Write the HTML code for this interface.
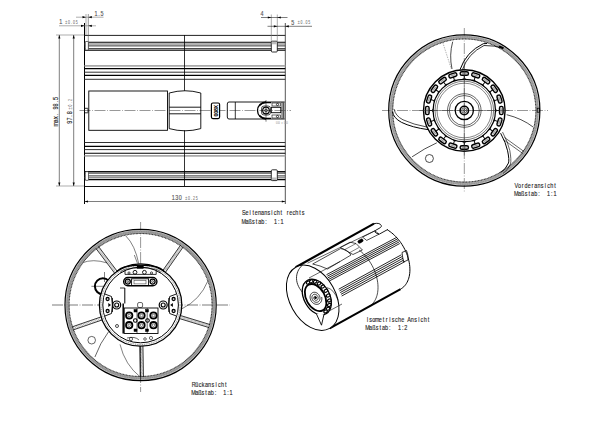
<!DOCTYPE html>
<html><head><meta charset="utf-8"><style>
html,body{margin:0;padding:0;background:#fff;width:600px;height:426px;overflow:hidden}
svg{display:block;font-family:"Liberation Sans",sans-serif}
</style></head><body>
<svg width="600" height="426" viewBox="0 0 600 426">
<line x1="56.00" y1="35.00" x2="84.50" y2="35.00" stroke="#777" stroke-width="0.6" />
<line x1="56.00" y1="186.00" x2="84.50" y2="186.00" stroke="#777" stroke-width="0.6" />
<line x1="84.50" y1="23.00" x2="84.50" y2="204.00" stroke="#000" stroke-width="1.0" />
<line x1="285.30" y1="23.00" x2="285.30" y2="204.00" stroke="#555" stroke-width="1.0" />
<line x1="84.50" y1="35.40" x2="285.30" y2="35.40" stroke="#222" stroke-width="1.0" />
<line x1="84.50" y1="186.50" x2="285.30" y2="186.50" stroke="#111" stroke-width="1.1" />
<line x1="84.50" y1="42.20" x2="285.30" y2="42.20" stroke="#000" stroke-width="1.1" />
<line x1="84.50" y1="179.60" x2="285.30" y2="179.60" stroke="#000" stroke-width="1.1" />
<line x1="84.50" y1="44.00" x2="285.30" y2="44.00" stroke="#666" stroke-width="1.0" />
<line x1="84.50" y1="177.80" x2="285.30" y2="177.80" stroke="#666" stroke-width="1.0" />
<line x1="84.50" y1="45.90" x2="285.30" y2="45.90" stroke="#333" stroke-width="1.0" />
<line x1="84.50" y1="175.90" x2="285.30" y2="175.90" stroke="#333" stroke-width="1.0" />
<line x1="84.50" y1="48.80" x2="285.30" y2="48.80" stroke="#000" stroke-width="1.0" />
<line x1="84.50" y1="173.00" x2="285.30" y2="173.00" stroke="#000" stroke-width="1.0" />
<line x1="84.50" y1="50.30" x2="285.30" y2="50.30" stroke="#111" stroke-width="1.0" />
<line x1="84.50" y1="171.50" x2="285.30" y2="171.50" stroke="#111" stroke-width="1.0" />
<line x1="84.50" y1="65.90" x2="285.30" y2="65.90" stroke="#aaa" stroke-width="1.8" />
<line x1="84.50" y1="155.90" x2="285.30" y2="155.90" stroke="#aaa" stroke-width="1.8" />
<line x1="84.50" y1="68.60" x2="285.30" y2="68.60" stroke="#000" stroke-width="1.1" />
<line x1="84.50" y1="153.20" x2="285.30" y2="153.20" stroke="#000" stroke-width="1.1" />
<line x1="84.50" y1="72.20" x2="285.30" y2="72.20" stroke="#333" stroke-width="1.0" />
<line x1="84.50" y1="149.60" x2="285.30" y2="149.60" stroke="#333" stroke-width="1.0" />
<line x1="84.50" y1="75.40" x2="285.30" y2="75.40" stroke="#000" stroke-width="1.4" />
<line x1="84.50" y1="146.40" x2="285.30" y2="146.40" stroke="#000" stroke-width="1.4" />
<line x1="84.50" y1="79.30" x2="285.30" y2="79.30" stroke="#333" stroke-width="1.0" />
<line x1="84.50" y1="142.50" x2="285.30" y2="142.50" stroke="#333" stroke-width="1.0" />
<line x1="184.50" y1="35.00" x2="184.50" y2="90.80" stroke="#000" stroke-width="0.8" />
<line x1="184.50" y1="130.30" x2="184.50" y2="186.00" stroke="#000" stroke-width="0.8" />
<line x1="79.50" y1="110.50" x2="291.00" y2="110.50" stroke="#333" stroke-width="0.5" stroke-dasharray="11 1.6 0.8 1.6"/>
<rect x="84.50" y="108.30" width="3.50" height="4.50" rx="0.5" fill="none" stroke="#000" stroke-width="0.8" />
<rect x="85.30" y="41.50" width="3.20" height="8.60" rx="0.8" fill="#fff" stroke="#333" stroke-width="0.7" />
<rect x="85.30" y="171.70" width="3.20" height="8.60" rx="0.8" fill="#fff" stroke="#333" stroke-width="0.7" />
<rect x="88.80" y="91.00" width="78.70" height="39.30" rx="0" fill="none" stroke="#000" stroke-width="0.9" />
<path d="M169.2,93 Q185,88.5 200.8,93 L200.8,128.6 Q185,133 169.2,128.6 Z" fill="none" stroke="#000" stroke-width="0.9" />
<line x1="169.20" y1="107.20" x2="200.80" y2="107.20" stroke="#000" stroke-width="0.9" />
<line x1="169.20" y1="113.80" x2="200.80" y2="113.80" stroke="#000" stroke-width="0.9" />
<rect x="211.40" y="103.00" width="8.20" height="15.60" rx="1.5" fill="#fff" stroke="#000" stroke-width="1.2" />
<g transform="translate(217.6,116.3) rotate(-90)">
<text transform="translate(0,0) scale(0.85,1)" x="1.62 4.85 8.09 11.32" font-size="6.2" fill="#000" stroke="#000" stroke-width="0.08" text-anchor="middle" font-weight="bold">008X</text>
</g>
<path d="M284.7,102 L229,102 Q227.3,102 227.3,104 L227.3,117 Q227.3,119 229,119 L284.7,119" fill="none" stroke="#000" stroke-width="0.9" />
<line x1="235.30" y1="102.00" x2="235.30" y2="119.00" stroke="#000" stroke-width="0.8" />
<path d="M266,102 A8.5,8.5 0 0 0 266,119" fill="none" stroke="#000" stroke-width="1.3" />
<path d="M259.5,105.5 Q262,102.8 266,102.6 L271,102.6" fill="none" stroke="#000" stroke-width="1.4" />
<path d="M259.5,115.5 Q262,118.2 266,118.4 L271,118.4" fill="none" stroke="#000" stroke-width="1.4" />
<rect x="261.50" y="106.00" width="9.00" height="9.00" rx="2.5" fill="none" stroke="#000" stroke-width="0.7" />
<circle cx="266.00" cy="110.50" r="3.30" fill="none" stroke="#000" stroke-width="1.2" />
<circle cx="266.00" cy="110.50" r="1.40" fill="none" stroke="#000" stroke-width="0.7" />
<line x1="266.00" y1="100.00" x2="266.00" y2="121.70" stroke="#000" stroke-width="0.5" />
<rect x="271.30" y="107.30" width="9.50" height="5.40" rx="0" fill="none" stroke="#000" stroke-width="0.9" />
<rect x="272.00" y="103.00" width="8.50" height="3.00" rx="0" fill="none" stroke="#000" stroke-width="0.6" />
<rect x="272.00" y="115.00" width="8.50" height="3.00" rx="0" fill="none" stroke="#000" stroke-width="0.6" />
<circle cx="277.50" cy="104.50" r="1.10" fill="none" stroke="#000" stroke-width="0.7" />
<circle cx="277.50" cy="116.50" r="1.10" fill="none" stroke="#000" stroke-width="0.7" />
<line x1="282.00" y1="102.00" x2="282.00" y2="119.00" stroke="#000" stroke-width="0.7" />
<line x1="283.60" y1="102.00" x2="283.60" y2="119.00" stroke="#555" stroke-width="1.6" />
<text transform="translate(276,124) scale(0.7,1)" x="0.95 2.86 4.76 6.67 8.57 10.48 12.38 14.29 16.19" font-size="2.8" fill="#aaa" stroke="#aaa" stroke-width="0.08" text-anchor="middle" >000&#160;x&#160;000</text>
<rect x="271.30" y="41.20" width="6.00" height="10.80" rx="1" fill="#fff" stroke="#000" stroke-width="0.8" />
<rect x="271.80" y="41.80" width="5.00" height="2.50" rx="0" fill="#bbb" stroke="#000" stroke-width="0" />
<rect x="271.30" y="169.80" width="6.00" height="10.80" rx="1" fill="#fff" stroke="#000" stroke-width="0.8" />
<rect x="271.80" y="177.50" width="5.00" height="2.50" rx="0" fill="#bbb" stroke="#000" stroke-width="0" />
<line x1="271.30" y1="14.50" x2="271.30" y2="41.20" stroke="#777" stroke-width="0.6" />
<line x1="277.30" y1="14.50" x2="277.30" y2="41.20" stroke="#777" stroke-width="0.6" />
<line x1="86.00" y1="14.00" x2="86.00" y2="35.00" stroke="#777" stroke-width="0.6" />
<line x1="88.30" y1="14.00" x2="88.30" y2="50.00" stroke="#555" stroke-width="0.6" />
<line x1="76.00" y1="17.20" x2="103.50" y2="17.20" stroke="#777" stroke-width="0.6" />
<path d="M86.00,17.20 L82.50,18.30 L82.50,16.10Z" fill="#000"/>
<path d="M88.30,17.20 L91.80,16.10 L91.80,18.30Z" fill="#000"/>
<text transform="translate(94.5,15.9) scale(0.7,1)" x="2.14 6.43 10.71" font-size="7.8" fill="#555" stroke="#555" stroke-width="0.15" text-anchor="middle" >1.5</text>
<line x1="59.00" y1="25.80" x2="96.00" y2="25.80" stroke="#777" stroke-width="0.6" />
<path d="M84.50,25.80 L81.00,26.90 L81.00,24.70Z" fill="#000"/>
<path d="M88.30,25.80 L91.80,24.70 L91.80,26.90Z" fill="#000"/>
<text transform="translate(59.3,24.3) scale(0.7,1)" x="2.14" font-size="7.8" fill="#555" stroke="#555" stroke-width="0.15" text-anchor="middle" >1</text>
<text transform="translate(65,24.4) scale(0.7,1)" x="1.86 5.57 9.29 13.00 16.71" font-size="5" fill="#777" stroke="#777" stroke-width="0.08" text-anchor="middle" >±0.05</text>
<line x1="261.00" y1="17.50" x2="287.50" y2="17.50" stroke="#262626" stroke-width="0.6" />
<path d="M271.30,17.50 L267.80,18.60 L267.80,16.40Z" fill="#000"/>
<path d="M277.30,17.50 L280.80,16.40 L280.80,18.60Z" fill="#000"/>
<text transform="translate(260.5,15.6) scale(0.7,1)" x="2.14" font-size="7.8" fill="#555" stroke="#555" stroke-width="0.15" text-anchor="middle" >4</text>
<line x1="267.50" y1="26.30" x2="312.00" y2="26.30" stroke="#262626" stroke-width="0.6" />
<path d="M277.30,26.30 L273.80,27.40 L273.80,25.20Z" fill="#000"/>
<path d="M285.30,26.30 L288.80,25.20 L288.80,27.40Z" fill="#000"/>
<text transform="translate(291.2,24.5) scale(0.7,1)" x="2.14" font-size="7.8" fill="#555" stroke="#555" stroke-width="0.15" text-anchor="middle" >5</text>
<text transform="translate(297.5,24.4) scale(0.7,1)" x="1.86 5.57 9.29 13.00 16.71" font-size="5" fill="#777" stroke="#777" stroke-width="0.08" text-anchor="middle" >±0.05</text>
<line x1="59.30" y1="35.00" x2="59.30" y2="186.00" stroke="#262626" stroke-width="0.6" />
<path d="M59.30,35.00 L60.40,38.50 L58.20,38.50Z" fill="#000"/>
<path d="M59.30,186.00 L58.20,182.50 L60.40,182.50Z" fill="#000"/>
<line x1="73.70" y1="35.00" x2="73.70" y2="186.00" stroke="#262626" stroke-width="0.6" />
<path d="M73.70,35.00 L74.80,38.50 L72.60,38.50Z" fill="#000"/>
<path d="M73.70,186.00 L72.60,182.50 L74.80,182.50Z" fill="#000"/>
<g transform="translate(58.1,125.8) rotate(-90)">
<text transform="translate(0,0) scale(0.7,1)" x="2.30 6.90 11.51 16.11 20.71 25.32 29.92 34.52 39.13" font-size="7.8" fill="#262626" stroke="#262626" stroke-width="0.15" text-anchor="middle" >max.&#160;98.5</text>
</g>
<g transform="translate(72.0,123.7) rotate(-90)">
<text transform="translate(0,0) scale(0.7,1)" x="2.23 6.70 11.16 15.63" font-size="7.8" fill="#262626" stroke="#262626" stroke-width="0.15" text-anchor="middle" >97.8</text>
<text transform="translate(14,0) scale(0.7,1)" x="1.96 5.89 9.82 13.75" font-size="5" fill="#777" stroke="#777" stroke-width="0.08" text-anchor="middle" >±0.2</text>
</g>
<line x1="84.50" y1="201.50" x2="285.30" y2="201.50" stroke="#262626" stroke-width="0.6" />
<path d="M84.50,201.50 L88.00,200.40 L88.00,202.60Z" fill="#000"/>
<path d="M285.30,201.50 L281.80,202.60 L281.80,200.40Z" fill="#000"/>
<text transform="translate(171.5,200.3) scale(0.7,1)" x="2.50 7.50 12.50" font-size="7.8" fill="#555" stroke="#555" stroke-width="0.15" text-anchor="middle" >130</text>
<text transform="translate(185,200.3) scale(0.7,1)" x="1.86 5.57 9.29 13.00 16.71" font-size="5" fill="#777" stroke="#777" stroke-width="0.08" text-anchor="middle" >±0.25</text>
<text transform="translate(242.3,215) scale(0.7,1)" x="2.23 6.69 11.14 15.60 20.06 24.51 28.97 33.43 37.89 42.34 46.80 51.26 55.71 60.17 64.63 69.09 73.54 78.00 82.46 86.91" font-size="7.8" fill="#262626" stroke="#262626" stroke-width="0.15" text-anchor="middle" >Seitenansicht&#160;rechts</text>
<text transform="translate(242.3,224) scale(0.7,1)" x="2.26 6.79 11.32 15.85 20.37 24.90 29.43 33.96 38.48 43.01 47.54 52.07 56.59" font-size="7.8" fill="#262626" stroke="#262626" stroke-width="0.15" text-anchor="middle" >Maßstab:&#160;&#160;1:1</text>
<line x1="382.00" y1="110.50" x2="548.00" y2="110.50" stroke="#333" stroke-width="0.5" stroke-dasharray="11 1.6 0.8 1.6"/>
<line x1="464.30" y1="28.00" x2="464.30" y2="192.00" stroke="#333" stroke-width="0.5" stroke-dasharray="11 1.6 0.8 1.6"/>
<circle cx="464.30" cy="110.50" r="73.00" fill="none" stroke="#a8a8a8" stroke-width="3.4" />
<circle cx="464.30" cy="110.50" r="75.60" fill="none" stroke="#000" stroke-width="1.2" />
<circle cx="464.30" cy="110.50" r="71.60" fill="none" stroke="#333" stroke-width="1.1" stroke-dasharray="0.9 0.6"/>
<circle cx="464.30" cy="110.50" r="73.60" fill="none" stroke="#666" stroke-width="0.5" stroke-dasharray="0.9 0.9"/>
<rect x="537.20" y="108.20" width="2.40" height="4.00" rx="0" fill="none" stroke="#000" stroke-width="0.8" />
<path d="M499,46.5 L503.5,48.3" fill="none" stroke="#000" stroke-width="2.0" />
<path d="M442.7,42.3 L451.3,69" fill="none" stroke="#444" stroke-width="0.4" stroke-dasharray="1.5 1"/>
<path d="M452.7,41.7 Q449,55 452,69" fill="none" stroke="#000" stroke-width="0.7" />
<path d="M460,69.7 Q466,52 483.3,43.7 L487,43.5" fill="none" stroke="#000" stroke-width="1.0" />
<path d="M462.5,69.5 Q468,53.5 484,45.5 Q495,45.5 503,48" fill="none" stroke="#000" stroke-width="0.8" />
<path d="M392.4,111.6 Q393.5,118 401.4,122.3 Q412,127.5 428.6,129.7" fill="none" stroke="#000" stroke-width="1.0" />
<path d="M394,109 Q395.5,116 403,119.8 Q413,124.5 427.5,127.2" fill="none" stroke="#000" stroke-width="0.7" />
<path d="M412.1,156.8 Q425,148 436.8,142.8" fill="none" stroke="#000" stroke-width="0.7" />
<circle cx="429.40" cy="158.50" r="4.00" fill="none" stroke="#000" stroke-width="0.7" />
<path d="M506.7,114.7 Q522,118.5 533.1,127" fill="none" stroke="#000" stroke-width="0.7" />
<line x1="504.50" y1="137.50" x2="524.00" y2="151.50" stroke="#000" stroke-width="0.6" />
<line x1="503.30" y1="139.50" x2="522.80" y2="153.50" stroke="#000" stroke-width="0.6" />
<path d="M500.6,133.2 Q506,143 507.6,150.8 Q509.5,160 508.5,163 Q506,169 500.6,172.5" fill="none" stroke="#000" stroke-width="1.0" />
<path d="M502.5,132 Q508,142 509.8,150.5 Q511.5,160 510.5,164 Q508,170 503,173.5" fill="none" stroke="#000" stroke-width="0.6" />
<circle cx="464.30" cy="110.50" r="40.80" fill="none" stroke="#000" stroke-width="1.4" />
<circle cx="464.30" cy="110.50" r="31.20" fill="none" stroke="#000" stroke-width="1.2" />
<circle cx="464.30" cy="110.50" r="29.30" fill="none" stroke="#222" stroke-width="0.6" />
<circle cx="464.30" cy="110.50" r="27.30" fill="none" stroke="#333" stroke-width="0.6" />
<g transform="translate(464.30,73.50) rotate(0)"><rect x="-4.1" y="-1.8" width="8.2" height="3.6" rx="1.6" fill="#ddd" stroke="#000" stroke-width="1.4"/><line x1="-2.2" y1="0" x2="2.2" y2="0" stroke="#777" stroke-width="0.6"/><line x1="0" y1="1.7" x2="0" y2="5.8" stroke="#000" stroke-width="1.0"/><line x1="-1.6" y1="5.4" x2="1.6" y2="5.4" stroke="#000" stroke-width="0.8"/></g>
<g transform="translate(475.73,75.31) rotate(18)"><rect x="-4.1" y="-1.8" width="8.2" height="3.6" rx="1.6" fill="#ddd" stroke="#000" stroke-width="1.4"/><line x1="-2.2" y1="0" x2="2.2" y2="0" stroke="#777" stroke-width="0.6"/><line x1="0" y1="1.7" x2="0" y2="5.8" stroke="#000" stroke-width="1.0"/><line x1="-1.6" y1="5.4" x2="1.6" y2="5.4" stroke="#000" stroke-width="0.8"/></g>
<g transform="translate(486.05,80.57) rotate(36)"><rect x="-4.1" y="-1.8" width="8.2" height="3.6" rx="1.6" fill="#ddd" stroke="#000" stroke-width="1.4"/><line x1="-2.2" y1="0" x2="2.2" y2="0" stroke="#777" stroke-width="0.6"/><line x1="0" y1="1.7" x2="0" y2="5.8" stroke="#000" stroke-width="1.0"/><line x1="-1.6" y1="5.4" x2="1.6" y2="5.4" stroke="#000" stroke-width="0.8"/></g>
<g transform="translate(494.23,88.75) rotate(54)"><rect x="-4.1" y="-1.8" width="8.2" height="3.6" rx="1.6" fill="#ddd" stroke="#000" stroke-width="1.4"/><line x1="-2.2" y1="0" x2="2.2" y2="0" stroke="#777" stroke-width="0.6"/><line x1="0" y1="1.7" x2="0" y2="5.8" stroke="#000" stroke-width="1.0"/><line x1="-1.6" y1="5.4" x2="1.6" y2="5.4" stroke="#000" stroke-width="0.8"/></g>
<g transform="translate(499.49,99.07) rotate(72)"><rect x="-4.1" y="-1.8" width="8.2" height="3.6" rx="1.6" fill="#ddd" stroke="#000" stroke-width="1.4"/><line x1="-2.2" y1="0" x2="2.2" y2="0" stroke="#777" stroke-width="0.6"/><line x1="0" y1="1.7" x2="0" y2="5.8" stroke="#000" stroke-width="1.0"/><line x1="-1.6" y1="5.4" x2="1.6" y2="5.4" stroke="#000" stroke-width="0.8"/></g>
<g transform="translate(501.30,110.50) rotate(90)"><rect x="-4.1" y="-1.8" width="8.2" height="3.6" rx="1.6" fill="#ddd" stroke="#000" stroke-width="1.4"/><line x1="-2.2" y1="0" x2="2.2" y2="0" stroke="#777" stroke-width="0.6"/><line x1="0" y1="1.7" x2="0" y2="5.8" stroke="#000" stroke-width="1.0"/><line x1="-1.6" y1="5.4" x2="1.6" y2="5.4" stroke="#000" stroke-width="0.8"/></g>
<g transform="translate(499.49,121.93) rotate(108)"><rect x="-4.1" y="-1.8" width="8.2" height="3.6" rx="1.6" fill="#ddd" stroke="#000" stroke-width="1.4"/><line x1="-2.2" y1="0" x2="2.2" y2="0" stroke="#777" stroke-width="0.6"/><line x1="0" y1="1.7" x2="0" y2="5.8" stroke="#000" stroke-width="1.0"/><line x1="-1.6" y1="5.4" x2="1.6" y2="5.4" stroke="#000" stroke-width="0.8"/></g>
<g transform="translate(494.23,132.25) rotate(126)"><rect x="-4.1" y="-1.8" width="8.2" height="3.6" rx="1.6" fill="#ddd" stroke="#000" stroke-width="1.4"/><line x1="-2.2" y1="0" x2="2.2" y2="0" stroke="#777" stroke-width="0.6"/><line x1="0" y1="1.7" x2="0" y2="5.8" stroke="#000" stroke-width="1.0"/><line x1="-1.6" y1="5.4" x2="1.6" y2="5.4" stroke="#000" stroke-width="0.8"/></g>
<g transform="translate(486.05,140.43) rotate(144)"><rect x="-4.1" y="-1.8" width="8.2" height="3.6" rx="1.6" fill="#ddd" stroke="#000" stroke-width="1.4"/><line x1="-2.2" y1="0" x2="2.2" y2="0" stroke="#777" stroke-width="0.6"/><line x1="0" y1="1.7" x2="0" y2="5.8" stroke="#000" stroke-width="1.0"/><line x1="-1.6" y1="5.4" x2="1.6" y2="5.4" stroke="#000" stroke-width="0.8"/></g>
<g transform="translate(475.73,145.69) rotate(162)"><rect x="-4.1" y="-1.8" width="8.2" height="3.6" rx="1.6" fill="#ddd" stroke="#000" stroke-width="1.4"/><line x1="-2.2" y1="0" x2="2.2" y2="0" stroke="#777" stroke-width="0.6"/><line x1="0" y1="1.7" x2="0" y2="5.8" stroke="#000" stroke-width="1.0"/><line x1="-1.6" y1="5.4" x2="1.6" y2="5.4" stroke="#000" stroke-width="0.8"/></g>
<g transform="translate(464.30,147.50) rotate(180)"><rect x="-4.1" y="-1.8" width="8.2" height="3.6" rx="1.6" fill="#ddd" stroke="#000" stroke-width="1.4"/><line x1="-2.2" y1="0" x2="2.2" y2="0" stroke="#777" stroke-width="0.6"/><line x1="0" y1="1.7" x2="0" y2="5.8" stroke="#000" stroke-width="1.0"/><line x1="-1.6" y1="5.4" x2="1.6" y2="5.4" stroke="#000" stroke-width="0.8"/></g>
<g transform="translate(452.87,145.69) rotate(198)"><rect x="-4.1" y="-1.8" width="8.2" height="3.6" rx="1.6" fill="#ddd" stroke="#000" stroke-width="1.4"/><line x1="-2.2" y1="0" x2="2.2" y2="0" stroke="#777" stroke-width="0.6"/><line x1="0" y1="1.7" x2="0" y2="5.8" stroke="#000" stroke-width="1.0"/><line x1="-1.6" y1="5.4" x2="1.6" y2="5.4" stroke="#000" stroke-width="0.8"/></g>
<g transform="translate(442.55,140.43) rotate(216)"><rect x="-4.1" y="-1.8" width="8.2" height="3.6" rx="1.6" fill="#ddd" stroke="#000" stroke-width="1.4"/><line x1="-2.2" y1="0" x2="2.2" y2="0" stroke="#777" stroke-width="0.6"/><line x1="0" y1="1.7" x2="0" y2="5.8" stroke="#000" stroke-width="1.0"/><line x1="-1.6" y1="5.4" x2="1.6" y2="5.4" stroke="#000" stroke-width="0.8"/></g>
<g transform="translate(434.37,132.25) rotate(234)"><rect x="-4.1" y="-1.8" width="8.2" height="3.6" rx="1.6" fill="#ddd" stroke="#000" stroke-width="1.4"/><line x1="-2.2" y1="0" x2="2.2" y2="0" stroke="#777" stroke-width="0.6"/><line x1="0" y1="1.7" x2="0" y2="5.8" stroke="#000" stroke-width="1.0"/><line x1="-1.6" y1="5.4" x2="1.6" y2="5.4" stroke="#000" stroke-width="0.8"/></g>
<g transform="translate(429.11,121.93) rotate(252)"><rect x="-4.1" y="-1.8" width="8.2" height="3.6" rx="1.6" fill="#ddd" stroke="#000" stroke-width="1.4"/><line x1="-2.2" y1="0" x2="2.2" y2="0" stroke="#777" stroke-width="0.6"/><line x1="0" y1="1.7" x2="0" y2="5.8" stroke="#000" stroke-width="1.0"/><line x1="-1.6" y1="5.4" x2="1.6" y2="5.4" stroke="#000" stroke-width="0.8"/></g>
<g transform="translate(427.30,110.50) rotate(270)"><rect x="-4.1" y="-1.8" width="8.2" height="3.6" rx="1.6" fill="#ddd" stroke="#000" stroke-width="1.4"/><line x1="-2.2" y1="0" x2="2.2" y2="0" stroke="#777" stroke-width="0.6"/><line x1="0" y1="1.7" x2="0" y2="5.8" stroke="#000" stroke-width="1.0"/><line x1="-1.6" y1="5.4" x2="1.6" y2="5.4" stroke="#000" stroke-width="0.8"/></g>
<g transform="translate(429.11,99.07) rotate(288)"><rect x="-4.1" y="-1.8" width="8.2" height="3.6" rx="1.6" fill="#ddd" stroke="#000" stroke-width="1.4"/><line x1="-2.2" y1="0" x2="2.2" y2="0" stroke="#777" stroke-width="0.6"/><line x1="0" y1="1.7" x2="0" y2="5.8" stroke="#000" stroke-width="1.0"/><line x1="-1.6" y1="5.4" x2="1.6" y2="5.4" stroke="#000" stroke-width="0.8"/></g>
<g transform="translate(434.37,88.75) rotate(306)"><rect x="-4.1" y="-1.8" width="8.2" height="3.6" rx="1.6" fill="#ddd" stroke="#000" stroke-width="1.4"/><line x1="-2.2" y1="0" x2="2.2" y2="0" stroke="#777" stroke-width="0.6"/><line x1="0" y1="1.7" x2="0" y2="5.8" stroke="#000" stroke-width="1.0"/><line x1="-1.6" y1="5.4" x2="1.6" y2="5.4" stroke="#000" stroke-width="0.8"/></g>
<g transform="translate(442.55,80.57) rotate(324)"><rect x="-4.1" y="-1.8" width="8.2" height="3.6" rx="1.6" fill="#ddd" stroke="#000" stroke-width="1.4"/><line x1="-2.2" y1="0" x2="2.2" y2="0" stroke="#777" stroke-width="0.6"/><line x1="0" y1="1.7" x2="0" y2="5.8" stroke="#000" stroke-width="1.0"/><line x1="-1.6" y1="5.4" x2="1.6" y2="5.4" stroke="#000" stroke-width="0.8"/></g>
<g transform="translate(452.87,75.31) rotate(342)"><rect x="-4.1" y="-1.8" width="8.2" height="3.6" rx="1.6" fill="#ddd" stroke="#000" stroke-width="1.4"/><line x1="-2.2" y1="0" x2="2.2" y2="0" stroke="#777" stroke-width="0.6"/><line x1="0" y1="1.7" x2="0" y2="5.8" stroke="#000" stroke-width="1.0"/><line x1="-1.6" y1="5.4" x2="1.6" y2="5.4" stroke="#000" stroke-width="0.8"/></g>
<circle cx="464.30" cy="110.50" r="16.80" fill="none" stroke="#000" stroke-width="0.6" />
<circle cx="464.30" cy="110.50" r="15.00" fill="none" stroke="#000" stroke-width="0.6" />
<line x1="419.30" y1="110.50" x2="459.70" y2="110.50" stroke="#333" stroke-width="0.5" />
<line x1="468.90" y1="110.50" x2="509.30" y2="110.50" stroke="#333" stroke-width="0.5" />
<line x1="464.30" y1="65.50" x2="464.30" y2="105.90" stroke="#333" stroke-width="0.5" />
<line x1="464.30" y1="115.10" x2="464.30" y2="155.50" stroke="#333" stroke-width="0.5" />
<circle cx="464.30" cy="110.50" r="9.10" fill="none" stroke="#000" stroke-width="1.3" />
<circle cx="464.30" cy="110.50" r="4.20" fill="none" stroke="#000" stroke-width="1.6" />
<circle cx="464.30" cy="110.50" r="2.60" fill="none" stroke="#000" stroke-width="0.6" />
<circle cx="464.30" cy="110.50" r="1.00" fill="none" stroke="#000" stroke-width="0.6" />
<text transform="translate(514.7,187.7) scale(0.7,1)" x="2.31 6.92 11.54 16.15 20.77 25.38 30.00 34.62 39.23 43.85 48.46 53.08 57.69" font-size="7.8" fill="#262626" stroke="#262626" stroke-width="0.15" text-anchor="middle" >Vorderansicht</text>
<text transform="translate(514.7,196) scale(0.7,1)" x="2.31 6.92 11.54 16.15 20.77 25.38 30.00 34.62 39.23 43.85 48.46 53.08 57.69" font-size="7.8" fill="#262626" stroke="#262626" stroke-width="0.15" text-anchor="middle" >Maßstab:&#160;&#160;1:1</text>
<line x1="52.00" y1="305.00" x2="230.00" y2="305.00" stroke="#222" stroke-width="0.6" stroke-dasharray="11 1.6 0.8 1.6"/>
<line x1="140.60" y1="222.00" x2="140.60" y2="392.00" stroke="#333" stroke-width="0.5" stroke-dasharray="11 1.6 0.8 1.6"/>
<path d="M82,262.9 Q93,258.5 106.9,262.9" fill="none" stroke="#000" stroke-width="0.5" />
<path d="M125.9,236 Q135,245 138.8,263.9" fill="none" stroke="#000" stroke-width="0.5" />
<path d="M207.9,280.9 Q200,300 181.9,308.8" fill="none" stroke="#000" stroke-width="0.5" />
<path d="M94.9,357 Q100,343 108.6,331.7" fill="none" stroke="#000" stroke-width="0.6" />
<path d="M120,344.4 Q125,365 140.3,377" fill="none" stroke="#000" stroke-width="0.5" />
<circle cx="91.70" cy="340.20" r="3.80" fill="none" stroke="#000" stroke-width="0.6" />
<circle cx="102.90" cy="286.30" r="8.00" fill="none" stroke="#000" stroke-width="2.0" />
<line x1="91.40" y1="286.30" x2="119.60" y2="286.30" stroke="#000" stroke-width="0.5" />
<line x1="104.50" y1="272.00" x2="104.50" y2="282.00" stroke="#000" stroke-width="0.5" />
<circle cx="140.60" cy="305.00" r="73.00" fill="none" stroke="#a0a0a0" stroke-width="3.4" />
<circle cx="140.60" cy="305.00" r="75.60" fill="none" stroke="#000" stroke-width="1.2" />
<circle cx="140.60" cy="305.00" r="71.50" fill="none" stroke="#333" stroke-width="1.1" stroke-dasharray="0.9 0.6"/>
<circle cx="140.60" cy="305.00" r="73.40" fill="none" stroke="#666" stroke-width="0.5" stroke-dasharray="0.9 0.9"/>
<line x1="162.81" y1="270.50" x2="180.59" y2="245.10" stroke="#000" stroke-width="0.8" />
<line x1="165.43" y1="272.33" x2="183.21" y2="246.94" stroke="#000" stroke-width="0.8" />
<line x1="163.71" y1="269.38" x2="167.03" y2="269.88" stroke="#666" stroke-width="0.45" />
<line x1="164.53" y1="268.21" x2="167.84" y2="268.71" stroke="#666" stroke-width="0.45" />
<line x1="165.35" y1="267.04" x2="168.66" y2="267.54" stroke="#666" stroke-width="0.45" />
<line x1="166.17" y1="265.87" x2="169.48" y2="266.37" stroke="#666" stroke-width="0.45" />
<line x1="166.98" y1="264.70" x2="170.30" y2="265.20" stroke="#666" stroke-width="0.45" />
<line x1="167.80" y1="263.53" x2="171.12" y2="264.03" stroke="#666" stroke-width="0.45" />
<line x1="168.62" y1="262.36" x2="171.94" y2="262.85" stroke="#666" stroke-width="0.45" />
<line x1="169.44" y1="261.19" x2="172.76" y2="261.68" stroke="#666" stroke-width="0.45" />
<line x1="170.26" y1="260.02" x2="173.58" y2="260.51" stroke="#666" stroke-width="0.45" />
<line x1="171.08" y1="258.85" x2="174.40" y2="259.34" stroke="#666" stroke-width="0.45" />
<line x1="171.90" y1="257.68" x2="175.22" y2="258.17" stroke="#666" stroke-width="0.45" />
<line x1="172.72" y1="256.51" x2="176.04" y2="257.00" stroke="#666" stroke-width="0.45" />
<line x1="173.54" y1="255.34" x2="176.86" y2="255.83" stroke="#666" stroke-width="0.45" />
<line x1="174.36" y1="254.17" x2="177.68" y2="254.66" stroke="#666" stroke-width="0.45" />
<line x1="175.18" y1="253.00" x2="178.50" y2="253.49" stroke="#666" stroke-width="0.45" />
<line x1="176.00" y1="251.83" x2="179.32" y2="252.32" stroke="#666" stroke-width="0.45" />
<line x1="176.82" y1="250.66" x2="180.14" y2="251.15" stroke="#666" stroke-width="0.45" />
<line x1="177.64" y1="249.49" x2="180.95" y2="249.98" stroke="#666" stroke-width="0.45" />
<line x1="178.46" y1="248.32" x2="181.77" y2="248.81" stroke="#666" stroke-width="0.45" />
<line x1="179.28" y1="247.15" x2="182.59" y2="247.64" stroke="#666" stroke-width="0.45" />
<line x1="114.65" y1="273.22" x2="95.99" y2="248.46" stroke="#000" stroke-width="0.8" />
<line x1="117.20" y1="271.29" x2="98.55" y2="246.54" stroke="#000" stroke-width="0.8" />
<line x1="113.87" y1="272.02" x2="115.36" y2="269.01" stroke="#666" stroke-width="0.45" />
<line x1="113.01" y1="270.88" x2="114.50" y2="267.87" stroke="#666" stroke-width="0.45" />
<line x1="112.15" y1="269.74" x2="113.64" y2="266.73" stroke="#666" stroke-width="0.45" />
<line x1="111.29" y1="268.60" x2="112.78" y2="265.59" stroke="#666" stroke-width="0.45" />
<line x1="110.43" y1="267.45" x2="111.92" y2="264.45" stroke="#666" stroke-width="0.45" />
<line x1="109.57" y1="266.31" x2="111.06" y2="263.31" stroke="#666" stroke-width="0.45" />
<line x1="108.71" y1="265.17" x2="110.20" y2="262.17" stroke="#666" stroke-width="0.45" />
<line x1="107.85" y1="264.03" x2="109.34" y2="261.03" stroke="#666" stroke-width="0.45" />
<line x1="106.99" y1="262.89" x2="108.48" y2="259.89" stroke="#666" stroke-width="0.45" />
<line x1="106.13" y1="261.75" x2="107.62" y2="258.75" stroke="#666" stroke-width="0.45" />
<line x1="105.27" y1="260.61" x2="106.76" y2="257.61" stroke="#666" stroke-width="0.45" />
<line x1="104.41" y1="259.47" x2="105.90" y2="256.46" stroke="#666" stroke-width="0.45" />
<line x1="103.55" y1="258.33" x2="105.04" y2="255.32" stroke="#666" stroke-width="0.45" />
<line x1="102.69" y1="257.19" x2="104.18" y2="254.18" stroke="#666" stroke-width="0.45" />
<line x1="101.83" y1="256.05" x2="103.32" y2="253.04" stroke="#666" stroke-width="0.45" />
<line x1="100.97" y1="254.90" x2="102.47" y2="251.90" stroke="#666" stroke-width="0.45" />
<line x1="100.11" y1="253.76" x2="101.61" y2="250.76" stroke="#666" stroke-width="0.45" />
<line x1="99.25" y1="252.62" x2="100.75" y2="249.62" stroke="#666" stroke-width="0.45" />
<line x1="98.39" y1="251.48" x2="99.89" y2="248.48" stroke="#666" stroke-width="0.45" />
<line x1="97.53" y1="250.34" x2="99.03" y2="247.34" stroke="#666" stroke-width="0.45" />
<line x1="102.35" y1="319.86" x2="73.04" y2="329.95" stroke="#000" stroke-width="0.8" />
<line x1="101.31" y1="316.84" x2="72.00" y2="326.93" stroke="#000" stroke-width="0.8" />
<line x1="100.97" y1="320.23" x2="98.58" y2="317.88" stroke="#666" stroke-width="0.45" />
<line x1="99.62" y1="320.70" x2="97.23" y2="318.35" stroke="#666" stroke-width="0.45" />
<line x1="98.27" y1="321.16" x2="95.87" y2="318.81" stroke="#666" stroke-width="0.45" />
<line x1="96.92" y1="321.63" x2="94.52" y2="319.28" stroke="#666" stroke-width="0.45" />
<line x1="95.57" y1="322.09" x2="93.17" y2="319.74" stroke="#666" stroke-width="0.45" />
<line x1="94.22" y1="322.56" x2="91.82" y2="320.21" stroke="#666" stroke-width="0.45" />
<line x1="92.87" y1="323.02" x2="90.47" y2="320.67" stroke="#666" stroke-width="0.45" />
<line x1="91.52" y1="323.49" x2="89.12" y2="321.14" stroke="#666" stroke-width="0.45" />
<line x1="90.17" y1="323.95" x2="87.77" y2="321.60" stroke="#666" stroke-width="0.45" />
<line x1="88.81" y1="324.42" x2="86.42" y2="322.07" stroke="#666" stroke-width="0.45" />
<line x1="87.46" y1="324.88" x2="85.07" y2="322.53" stroke="#666" stroke-width="0.45" />
<line x1="86.11" y1="325.35" x2="83.72" y2="323.00" stroke="#666" stroke-width="0.45" />
<line x1="84.76" y1="325.81" x2="82.37" y2="323.46" stroke="#666" stroke-width="0.45" />
<line x1="83.41" y1="326.28" x2="81.02" y2="323.93" stroke="#666" stroke-width="0.45" />
<line x1="82.06" y1="326.74" x2="79.67" y2="324.39" stroke="#666" stroke-width="0.45" />
<line x1="80.71" y1="327.21" x2="78.32" y2="324.86" stroke="#666" stroke-width="0.45" />
<line x1="79.36" y1="327.67" x2="76.96" y2="325.33" stroke="#666" stroke-width="0.45" />
<line x1="78.01" y1="328.14" x2="75.61" y2="325.79" stroke="#666" stroke-width="0.45" />
<line x1="76.66" y1="328.60" x2="74.26" y2="326.26" stroke="#666" stroke-width="0.45" />
<line x1="75.31" y1="329.07" x2="72.91" y2="326.72" stroke="#666" stroke-width="0.45" />
<line x1="142.92" y1="345.97" x2="143.46" y2="376.96" stroke="#000" stroke-width="0.8" />
<line x1="139.72" y1="346.02" x2="140.26" y2="377.02" stroke="#000" stroke-width="0.8" />
<line x1="142.84" y1="347.40" x2="139.87" y2="348.95" stroke="#666" stroke-width="0.45" />
<line x1="142.87" y1="348.82" x2="139.89" y2="350.38" stroke="#666" stroke-width="0.45" />
<line x1="142.89" y1="350.25" x2="139.92" y2="351.80" stroke="#666" stroke-width="0.45" />
<line x1="142.92" y1="351.68" x2="139.94" y2="353.23" stroke="#666" stroke-width="0.45" />
<line x1="142.94" y1="353.11" x2="139.97" y2="354.66" stroke="#666" stroke-width="0.45" />
<line x1="142.96" y1="354.54" x2="139.99" y2="356.09" stroke="#666" stroke-width="0.45" />
<line x1="142.99" y1="355.97" x2="140.02" y2="357.52" stroke="#666" stroke-width="0.45" />
<line x1="143.01" y1="357.39" x2="140.04" y2="358.95" stroke="#666" stroke-width="0.45" />
<line x1="143.04" y1="358.82" x2="140.07" y2="360.37" stroke="#666" stroke-width="0.45" />
<line x1="143.06" y1="360.25" x2="140.09" y2="361.80" stroke="#666" stroke-width="0.45" />
<line x1="143.09" y1="361.68" x2="140.12" y2="363.23" stroke="#666" stroke-width="0.45" />
<line x1="143.11" y1="363.11" x2="140.14" y2="364.66" stroke="#666" stroke-width="0.45" />
<line x1="143.14" y1="364.54" x2="140.17" y2="366.09" stroke="#666" stroke-width="0.45" />
<line x1="143.16" y1="365.96" x2="140.19" y2="367.52" stroke="#666" stroke-width="0.45" />
<line x1="143.19" y1="367.39" x2="140.22" y2="368.95" stroke="#666" stroke-width="0.45" />
<line x1="143.21" y1="368.82" x2="140.24" y2="370.37" stroke="#666" stroke-width="0.45" />
<line x1="143.24" y1="370.25" x2="140.27" y2="371.80" stroke="#666" stroke-width="0.45" />
<line x1="143.26" y1="371.68" x2="140.29" y2="373.23" stroke="#666" stroke-width="0.45" />
<line x1="143.29" y1="373.11" x2="140.32" y2="374.66" stroke="#666" stroke-width="0.45" />
<line x1="143.31" y1="374.53" x2="140.34" y2="376.09" stroke="#666" stroke-width="0.45" />
<line x1="180.28" y1="315.46" x2="209.92" y2="324.52" stroke="#000" stroke-width="0.8" />
<line x1="179.34" y1="318.52" x2="208.99" y2="327.58" stroke="#000" stroke-width="0.8" />
<line x1="181.61" y1="315.97" x2="182.17" y2="319.28" stroke="#666" stroke-width="0.45" />
<line x1="182.98" y1="316.39" x2="183.54" y2="319.70" stroke="#666" stroke-width="0.45" />
<line x1="184.35" y1="316.81" x2="184.90" y2="320.11" stroke="#666" stroke-width="0.45" />
<line x1="185.71" y1="317.22" x2="186.27" y2="320.53" stroke="#666" stroke-width="0.45" />
<line x1="187.08" y1="317.64" x2="187.64" y2="320.95" stroke="#666" stroke-width="0.45" />
<line x1="188.44" y1="318.06" x2="189.00" y2="321.37" stroke="#666" stroke-width="0.45" />
<line x1="189.81" y1="318.48" x2="190.37" y2="321.78" stroke="#666" stroke-width="0.45" />
<line x1="191.18" y1="318.89" x2="191.73" y2="322.20" stroke="#666" stroke-width="0.45" />
<line x1="192.54" y1="319.31" x2="193.10" y2="322.62" stroke="#666" stroke-width="0.45" />
<line x1="193.91" y1="319.73" x2="194.47" y2="323.04" stroke="#666" stroke-width="0.45" />
<line x1="195.27" y1="320.15" x2="195.83" y2="323.45" stroke="#666" stroke-width="0.45" />
<line x1="196.64" y1="320.56" x2="197.20" y2="323.87" stroke="#666" stroke-width="0.45" />
<line x1="198.01" y1="320.98" x2="198.56" y2="324.29" stroke="#666" stroke-width="0.45" />
<line x1="199.37" y1="321.40" x2="199.93" y2="324.71" stroke="#666" stroke-width="0.45" />
<line x1="200.74" y1="321.82" x2="201.30" y2="325.13" stroke="#666" stroke-width="0.45" />
<line x1="202.11" y1="322.24" x2="202.66" y2="325.54" stroke="#666" stroke-width="0.45" />
<line x1="203.47" y1="322.65" x2="204.03" y2="325.96" stroke="#666" stroke-width="0.45" />
<line x1="204.84" y1="323.07" x2="205.40" y2="326.38" stroke="#666" stroke-width="0.45" />
<line x1="206.20" y1="323.49" x2="206.76" y2="326.80" stroke="#666" stroke-width="0.45" />
<line x1="207.57" y1="323.91" x2="208.13" y2="327.21" stroke="#666" stroke-width="0.45" />
<circle cx="140.60" cy="305.00" r="41.20" fill="#fff" stroke="#000" stroke-width="1.3" />
<circle cx="140.60" cy="305.00" r="37.80" fill="none" stroke="#000" stroke-width="1.0" />
<circle cx="140.60" cy="305.00" r="39.5" fill="none" stroke="#555" stroke-width="0.7" stroke-dasharray="1 0.8"/>
<path d="M117,271.5 Q120.5,268 124,267.2 Q140.6,263.2 157.3,267.2 Q160.7,268 164.2,271.5" fill="none" stroke="#000" stroke-width="1.3" />
<path d="M120,272.5 Q123,269.8 125.5,269.3 Q140.6,266 155.7,269.3 Q158.2,269.8 161.2,272.5" fill="none" stroke="#000" stroke-width="0.6" />
<rect x="137.00" y="265.60" width="6.40" height="2.80" rx="0" fill="#000" stroke="#000" stroke-width="0.5" />
<path d="M125,270 L125,274.4 L156.2,274.4 L156.2,270" fill="none" stroke="#000" stroke-width="0.8" />
<circle cx="135.00" cy="272.30" r="1.90" fill="none" stroke="#000" stroke-width="0.9" />
<circle cx="144.40" cy="272.30" r="1.90" fill="none" stroke="#000" stroke-width="0.9" />
<circle cx="129.00" cy="273.00" r="1.10" fill="none" stroke="#000" stroke-width="0.7" />
<circle cx="151.50" cy="273.00" r="1.10" fill="none" stroke="#000" stroke-width="0.7" />
<rect x="123.70" y="277.50" width="33.20" height="8.30" rx="4.1" fill="none" stroke="#000" stroke-width="1.4" />
<circle cx="127.80" cy="281.60" r="2.50" fill="none" stroke="#000" stroke-width="1.3" />
<circle cx="127.80" cy="281.60" r="0.90" fill="none" stroke="#000" stroke-width="0.6" />
<circle cx="152.60" cy="281.60" r="2.50" fill="none" stroke="#000" stroke-width="1.3" />
<circle cx="152.60" cy="281.60" r="0.90" fill="none" stroke="#000" stroke-width="0.6" />
<rect x="131.60" y="278.80" width="17.00" height="6.80" rx="0" fill="none" stroke="#000" stroke-width="0.9" />
<rect x="134.00" y="280.50" width="12.00" height="3.40" rx="0" fill="none" stroke="#262626" stroke-width="0.5" />
<line x1="134.30" y1="255.00" x2="137.50" y2="263.40" stroke="#000" stroke-width="0.5" />
<line x1="123.20" y1="303.50" x2="123.20" y2="333.50" stroke="#000" stroke-width="1.5" />
<line x1="124.80" y1="288.00" x2="124.80" y2="303.50" stroke="#000" stroke-width="1.0" />
<line x1="120.00" y1="288.00" x2="124.80" y2="288.00" stroke="#000" stroke-width="0.8" />
<circle cx="116.70" cy="305.00" r="4.00" fill="#fff" stroke="#000" stroke-width="1.2" />
<circle cx="116.70" cy="305.00" r="2.00" fill="none" stroke="#000" stroke-width="1.1" />
<circle cx="163.20" cy="305.00" r="4.00" fill="#fff" stroke="#000" stroke-width="1.2" />
<circle cx="163.20" cy="305.00" r="2.00" fill="none" stroke="#000" stroke-width="1.1" />
<path d="M104.80,294 L111.50,296.5 Q113.80,305 111.50,313.5 L104.80,316" fill="#fff" stroke="#000" stroke-width="0.9"/>
<circle cx="107.60" cy="299.00" r="1.50" fill="none" stroke="#000" stroke-width="1.3" />
<circle cx="107.60" cy="311.00" r="1.50" fill="none" stroke="#000" stroke-width="1.3" />
<path d="M108.30,303 L111.00,305 L108.30,307 Z" fill="#000"/>
<line x1="112.30" y1="298.00" x2="112.30" y2="312.00" stroke="#000" stroke-width="1.0" />
<path d="M176.40,294 L169.70,296.5 Q167.40,305 169.70,313.5 L176.40,316" fill="#fff" stroke="#000" stroke-width="0.9"/>
<circle cx="173.60" cy="299.00" r="1.50" fill="none" stroke="#000" stroke-width="1.3" />
<circle cx="173.60" cy="311.00" r="1.50" fill="none" stroke="#000" stroke-width="1.3" />
<path d="M172.90,303 L170.20,305 L172.90,307 Z" fill="#000"/>
<line x1="168.90" y1="298.00" x2="168.90" y2="312.00" stroke="#000" stroke-width="1.0" />
<rect x="137.60" y="302.50" width="5.00" height="5.00" rx="1.5" fill="none" stroke="#000" stroke-width="0.6" />
<rect x="124.20" y="308.00" width="33.80" height="25.50" rx="0" fill="none" stroke="#000" stroke-width="0.9" />
<line x1="137.00" y1="308.00" x2="137.00" y2="333.50" stroke="#000" stroke-width="0.6" />
<line x1="147.20" y1="308.00" x2="147.20" y2="333.50" stroke="#000" stroke-width="0.6" />
<circle cx="129.20" cy="315.50" r="3.20" fill="none" stroke="#000" stroke-width="1.8" />
<circle cx="129.20" cy="315.50" r="1.30" fill="none" stroke="#000" stroke-width="0.5" />
<circle cx="129.20" cy="325.20" r="3.20" fill="none" stroke="#000" stroke-width="1.8" />
<circle cx="129.20" cy="325.20" r="1.30" fill="none" stroke="#000" stroke-width="0.5" />
<circle cx="141.50" cy="315.50" r="3.20" fill="none" stroke="#000" stroke-width="1.8" />
<circle cx="141.50" cy="315.50" r="1.30" fill="none" stroke="#000" stroke-width="0.5" />
<circle cx="141.50" cy="325.20" r="3.20" fill="none" stroke="#000" stroke-width="1.8" />
<circle cx="141.50" cy="325.20" r="1.30" fill="none" stroke="#000" stroke-width="0.5" />
<circle cx="153.50" cy="315.50" r="3.20" fill="none" stroke="#000" stroke-width="1.8" />
<circle cx="153.50" cy="315.50" r="1.30" fill="none" stroke="#000" stroke-width="0.5" />
<circle cx="153.50" cy="325.20" r="3.20" fill="none" stroke="#000" stroke-width="1.8" />
<circle cx="153.50" cy="325.20" r="1.30" fill="none" stroke="#000" stroke-width="0.5" />
<circle cx="135.30" cy="320.50" r="1.80" fill="none" stroke="#000" stroke-width="1.1" />
<circle cx="147.50" cy="320.50" r="1.80" fill="none" stroke="#000" stroke-width="1.1" />
<rect x="134.00" y="309.50" width="3.00" height="2.50" rx="0" fill="#000" stroke="#000" stroke-width="0.5" />
<rect x="145.50" y="309.50" width="3.00" height="2.50" rx="0" fill="#000" stroke="#000" stroke-width="0.5" />
<rect x="134.00" y="329.00" width="3.00" height="2.50" rx="0" fill="#000" stroke="#000" stroke-width="0.5" />
<rect x="145.50" y="329.00" width="3.00" height="2.50" rx="0" fill="#000" stroke="#000" stroke-width="0.5" />
<path d="M127,338 Q135,336 139,340" fill="none" stroke="#000" stroke-width="0.6" />
<circle cx="131.00" cy="339.00" r="1.60" fill="none" stroke="#000" stroke-width="0.6" />
<circle cx="145.00" cy="339.00" r="1.30" fill="none" stroke="#000" stroke-width="0.6" />
<circle cx="151.00" cy="338.00" r="1.60" fill="none" stroke="#000" stroke-width="0.6" />
<circle cx="117.00" cy="326.00" r="1.50" fill="none" stroke="#000" stroke-width="0.7" />
<line x1="140.60" y1="346.00" x2="140.60" y2="380.00" stroke="#000" stroke-width="0.6" />
<text transform="translate(192,386.7) scale(0.7,1)" x="2.29 6.88 11.46 16.05 20.63 25.21 29.80 34.38 38.97 43.55 48.14" font-size="7.8" fill="#262626" stroke="#262626" stroke-width="0.15" text-anchor="middle" >Rückansicht</text>
<text transform="translate(192,395.3) scale(0.7,1)" x="2.24 6.71 11.18 15.65 20.13 24.60 29.07 33.54 38.02 42.49 46.96 51.43 55.91" font-size="7.8" fill="#262626" stroke="#262626" stroke-width="0.15" text-anchor="middle" >Maßstab:&#160;&#160;1:1</text>
<path d="M387.30,229.79 L388.79,230.72 L390.26,231.75 L391.71,232.86 L393.14,234.06 L394.53,235.33 L395.89,236.69 L397.21,238.12 L398.48,239.61 L399.70,241.17 L400.87,242.78 L401.98,244.45 L403.04,246.16 L404.02,247.91 L404.94,249.70 L405.79,251.52 L406.57,253.36 L407.27,255.21 L407.89,257.08 L408.43,258.96 L408.89,260.83 L409.27,262.69 L409.56,264.54 L409.77,266.37 L409.88,268.17 L409.92,269.95 L409.86,271.68 L409.72,273.37 L409.49,275.01 L409.18,276.60 L408.78,278.13 L408.30,279.59 L407.73,280.98 L407.09,282.30 L406.37,283.54 L405.58,284.69 L404.71,285.76 L403.77,286.74 L402.76,287.63 L401.70,288.42 L400.57,289.11" fill="none" stroke="#000" stroke-width="1.0" />
<path d="M359.24,250.10 L360.59,251.18 L361.90,252.34 L363.19,253.57 L364.45,254.86 L365.67,256.22 L366.84,257.63 L367.98,259.09 L369.07,260.61 L370.10,262.17 L371.09,263.77 L372.01,265.40 L372.88,267.07 L373.69,268.76 L374.44,270.48 L375.11,272.21 L375.73,273.95 L376.27,275.70 L376.74,277.45 L377.14,279.20 L377.46,280.94 L377.71,282.66 L377.89,284.37 L377.99,286.05 L378.01,287.71 L377.96,289.33 L377.83,290.91 L377.63,292.45 L377.35,293.94 L377.00,295.38 L376.57,296.77 L376.07,298.10 L375.50,299.36 L374.87,300.56 L374.16,301.68 L373.40,302.74 L372.56,303.71 L371.67,304.61 L370.72,305.42 L369.72,306.15 L368.66,306.80" fill="none" stroke="#000" stroke-width="0.7" />
<line x1="295.73" y1="267.19" x2="374.00" y2="223.60" stroke="#000" stroke-width="2.2" />
<path d="M374,223.6 Q380,222.5 381.3,225.6 Q381.5,227 380.4,227.6 L375.2,230.6 Q374.5,232.5 376.5,233.3 L379.2,234.2 L387.9,229.4" fill="none" stroke="#000" stroke-width="0.9" />
<line x1="329.67" y1="328.41" x2="400.57" y2="289.11" stroke="#000" stroke-width="2.0" />
<ellipse cx="312.70" cy="297.80" rx="23" ry="35" transform="rotate(-29 312.70 297.80)" fill="#fff" stroke="#000" stroke-width="1.0"/>
<path d="M301.9,265.7 C295,272 293.5,284 304.7,294.6" fill="none" stroke="#000" stroke-width="0.8" />
<path d="M326.8,287.6 Q334,289 338,300.3" fill="none" stroke="#000" stroke-width="0.6" />
<line x1="330.00" y1="310.50" x2="342.00" y2="304.00" stroke="#000" stroke-width="0.6" />
<line x1="326.50" y1="274.70" x2="396.80" y2="237.30" stroke="#000" stroke-width="0.85" />
<line x1="327.25" y1="276.25" x2="397.55" y2="238.85" stroke="#000" stroke-width="0.85" />
<line x1="328.00" y1="277.80" x2="398.30" y2="240.40" stroke="#000" stroke-width="0.85" />
<line x1="328.75" y1="279.35" x2="399.05" y2="241.95" stroke="#000" stroke-width="0.85" />
<line x1="329.50" y1="280.90" x2="399.80" y2="243.50" stroke="#000" stroke-width="0.85" />
<line x1="338.70" y1="289.20" x2="401.30" y2="254.80" stroke="#000" stroke-width="0.85" />
<line x1="339.45" y1="290.90" x2="402.20" y2="256.50" stroke="#000" stroke-width="0.85" />
<line x1="340.20" y1="292.60" x2="403.10" y2="258.20" stroke="#000" stroke-width="0.85" />
<line x1="340.95" y1="294.30" x2="404.00" y2="259.90" stroke="#000" stroke-width="0.85" />
<line x1="341.70" y1="296.00" x2="404.90" y2="261.60" stroke="#000" stroke-width="0.85" />
<path d="M402,252.5 L406.5,250.5 Q408.5,255 408,260 L403.5,262 Q402.5,257 402,252.5 Z" fill="none" stroke="#000" stroke-width="0.8" />
<line x1="307.50" y1="263.20" x2="375.20" y2="230.60" stroke="#000" stroke-width="0.6" />
<path d="M312.7,264 L340.5,248.6 Q347,249 351,255 L327.5,269 Q320,265.5 312.7,264 Z" fill="none" stroke="#000" stroke-width="0.7" />
<line x1="309.00" y1="278.00" x2="340.00" y2="261.50" stroke="#000" stroke-width="0.6" />
<path d="M340.3,247.5 L350,242.2 L356,243.5 L362.4,250 L353,254.5 Z" fill="none" stroke="#000" stroke-width="0.7" />
<line x1="345.00" y1="249.50" x2="356.00" y2="243.50" stroke="#000" stroke-width="0.5" />
<line x1="349.00" y1="253.00" x2="359.00" y2="247.50" stroke="#000" stroke-width="0.5" />
<rect x="357.80" y="239.60" width="5.40" height="3.00" rx="1.2" fill="#000" stroke="#000" stroke-width="0.5"  transform="rotate(-29 360.5 241.1)"/>
<path d="M362.5,237.1 L375,230.8 L379,234.2 L366.7,240.4 Z" fill="none" stroke="#000" stroke-width="0.7" />
<ellipse cx="316.80" cy="297.00" rx="12.8" ry="19.2" transform="rotate(-29 316.80 297.00)" fill="#fff" stroke="#000" stroke-width="1.3"/>
<ellipse cx="308.02" cy="282.58" rx="1.9" ry="1.4" transform="rotate(-29.0 308.02 282.58)" fill="#fff" stroke="#000" stroke-width="1.2"/>
<ellipse cx="311.26" cy="281.36" rx="1.9" ry="1.4" transform="rotate(-29.0 311.26 281.36)" fill="#fff" stroke="#000" stroke-width="1.2"/>
<ellipse cx="315.04" cy="281.66" rx="1.9" ry="1.4" transform="rotate(-29.0 315.04 281.66)" fill="#fff" stroke="#000" stroke-width="1.2"/>
<ellipse cx="318.99" cy="283.47" rx="1.9" ry="1.4" transform="rotate(-29.0 318.99 283.47)" fill="#fff" stroke="#000" stroke-width="1.2"/>
<ellipse cx="322.73" cy="286.60" rx="1.9" ry="1.4" transform="rotate(-29.0 322.73 286.60)" fill="#fff" stroke="#000" stroke-width="1.2"/>
<ellipse cx="325.89" cy="290.75" rx="1.9" ry="1.4" transform="rotate(-29.0 325.89 290.75)" fill="#fff" stroke="#000" stroke-width="1.2"/>
<ellipse cx="328.16" cy="295.51" rx="1.9" ry="1.4" transform="rotate(-29.0 328.16 295.51)" fill="#fff" stroke="#000" stroke-width="1.2"/>
<ellipse cx="329.31" cy="300.42" rx="1.9" ry="1.4" transform="rotate(-29.0 329.31 300.42)" fill="#fff" stroke="#000" stroke-width="1.2"/>
<ellipse cx="329.25" cy="304.99" rx="1.9" ry="1.4" transform="rotate(-29.0 329.25 304.99)" fill="#fff" stroke="#000" stroke-width="1.2"/>
<ellipse cx="327.96" cy="308.78" rx="1.9" ry="1.4" transform="rotate(-29.0 327.96 308.78)" fill="#fff" stroke="#000" stroke-width="1.2"/>
<ellipse cx="325.58" cy="311.42" rx="1.9" ry="1.4" transform="rotate(-29.0 325.58 311.42)" fill="#fff" stroke="#000" stroke-width="1.2"/>
<ellipse cx="315.60" cy="297.60" rx="9.3" ry="14.6" transform="rotate(-29 315.60 297.60)" fill="#fff" stroke="#000" stroke-width="1.8"/>
<path d="M315.79,298.32 L315.87,298.33 L315.94,298.31 L316.02,298.29 L316.09,298.24 L316.16,298.19 L316.22,298.11 L316.27,298.03 L316.31,297.93 L316.34,297.81 L316.35,297.69 L316.35,297.56 L316.33,297.42 L316.29,297.28 L316.23,297.14 L316.16,297.00 L316.07,296.86 L315.96,296.74 L315.83,296.62 L315.69,296.52 L315.54,296.44 L315.38,296.37 L315.21,296.33 L315.04,296.31 L314.87,296.31 L314.69,296.35 L314.53,296.41 L314.37,296.49 L314.22,296.61 L314.09,296.75 L313.97,296.91 L313.88,297.10 L313.81,297.31 L313.77,297.53 L313.75,297.77 L313.76,298.03 L313.81,298.28 L313.88,298.54 L313.98,298.80 L314.11,299.05 L314.28,299.29 L314.46,299.51 L314.68,299.72 L314.91,299.90 L315.16,300.05 L315.43,300.16 L315.70,300.25 L315.99,300.29 L316.27,300.30 L316.55,300.26 L316.82,300.18 L317.08,300.06 L317.32,299.90 L317.54,299.70 L317.73,299.46 L317.89,299.19 L318.02,298.89 L318.10,298.56 L318.15,298.21 L318.16,297.84 L318.12,297.46 L318.04,297.08 L317.91,296.69 L317.75,296.32 L317.54,295.96 L317.29,295.62 L317.01,295.31 L316.69,295.03 L316.35,294.79 L315.99,294.59 L315.60,294.44 L315.21,294.33 L314.82,294.29 L314.42,294.30 L314.04,294.36 L313.66,294.49 L313.31,294.67 L312.99,294.90 L312.70,295.19 L312.45,295.52 L312.24,295.90 L312.09,296.32 L311.98,296.77 L311.93,297.25 L311.93,297.75 L312.00,298.25 L312.12,298.76 L312.29,299.27 L312.53,299.76 L312.81,300.23 L313.14,300.67 L313.52,301.07 L313.94,301.43 L314.39,301.73 L314.87,301.98 L315.36,302.17 L315.87,302.28 L316.38,302.33 L316.89,302.31 L317.38,302.21 L317.85,302.04 L318.29,301.80 L318.70,301.49 L319.06,301.12 L319.37,300.69 L319.62,300.20 L319.81,299.67 L319.94,299.09 L319.99,298.49 L319.98,297.87 L319.89,297.23 L319.73,296.59 L319.50,295.97 L319.20,295.36 L318.84,294.78 L318.42,294.24 L317.95,293.75 L317.43,293.32 L316.87,292.95 L316.28,292.65 L315.67,292.43 L315.04,292.30 L314.42,292.25 L313.80,292.29 L313.20,292.41 L312.63,292.63 L312.10,292.93 L311.61,293.31 L311.18,293.77 L310.81,294.30 L310.52,294.90 L310.29,295.55 L310.15,296.24 L310.09,296.97 L310.12,297.72 L310.23,298.48 L310.43,299.25 L310.71,300.00 L311.07,300.72 L311.51,301.41 L312.01,302.05 L312.58,302.63 L313.21,303.14 L313.87,303.57 L314.58,303.91 L315.30,304.17 L316.04,304.32 L316.78,304.37 L317.51,304.32 L318.21,304.16 L318.88,303.90 L319.51,303.54 L320.07,303.08 L320.58,302.54 L321.00,301.91 L321.35,301.21 L321.60,300.44 L321.77,299.63 L321.83,298.77 L321.79,297.89 L321.66,297.00" fill="none" stroke="#000" stroke-width="0.8" />
<circle cx="315.50" cy="297.80" r="1.20" fill="#000" stroke="#000" stroke-width="0" />
<path d="M316.3,313.6 L321.5,325.2 L324,314.2" fill="#fff" stroke="#000" stroke-width="0.9" />
<text transform="translate(365.8,322.2) scale(0.7,1)" x="2.29 6.88 11.46 16.05 20.64 25.22 29.81 34.39 38.98 43.56 48.15 52.74 57.32 61.91 66.49 71.08 75.66 80.25 84.84 89.42" font-size="7.8" fill="#262626" stroke="#262626" stroke-width="0.15" text-anchor="middle" >Isometrische&#160;Ansicht</text>
<text transform="translate(365.8,330.3) scale(0.7,1)" x="2.29 6.87 11.46 16.04 20.62 25.20 29.79 34.37 38.95 43.53 48.12 52.70 57.28" font-size="7.8" fill="#262626" stroke="#262626" stroke-width="0.15" text-anchor="middle" >Maßstab:&#160;&#160;1:2</text>
</svg></body></html>
